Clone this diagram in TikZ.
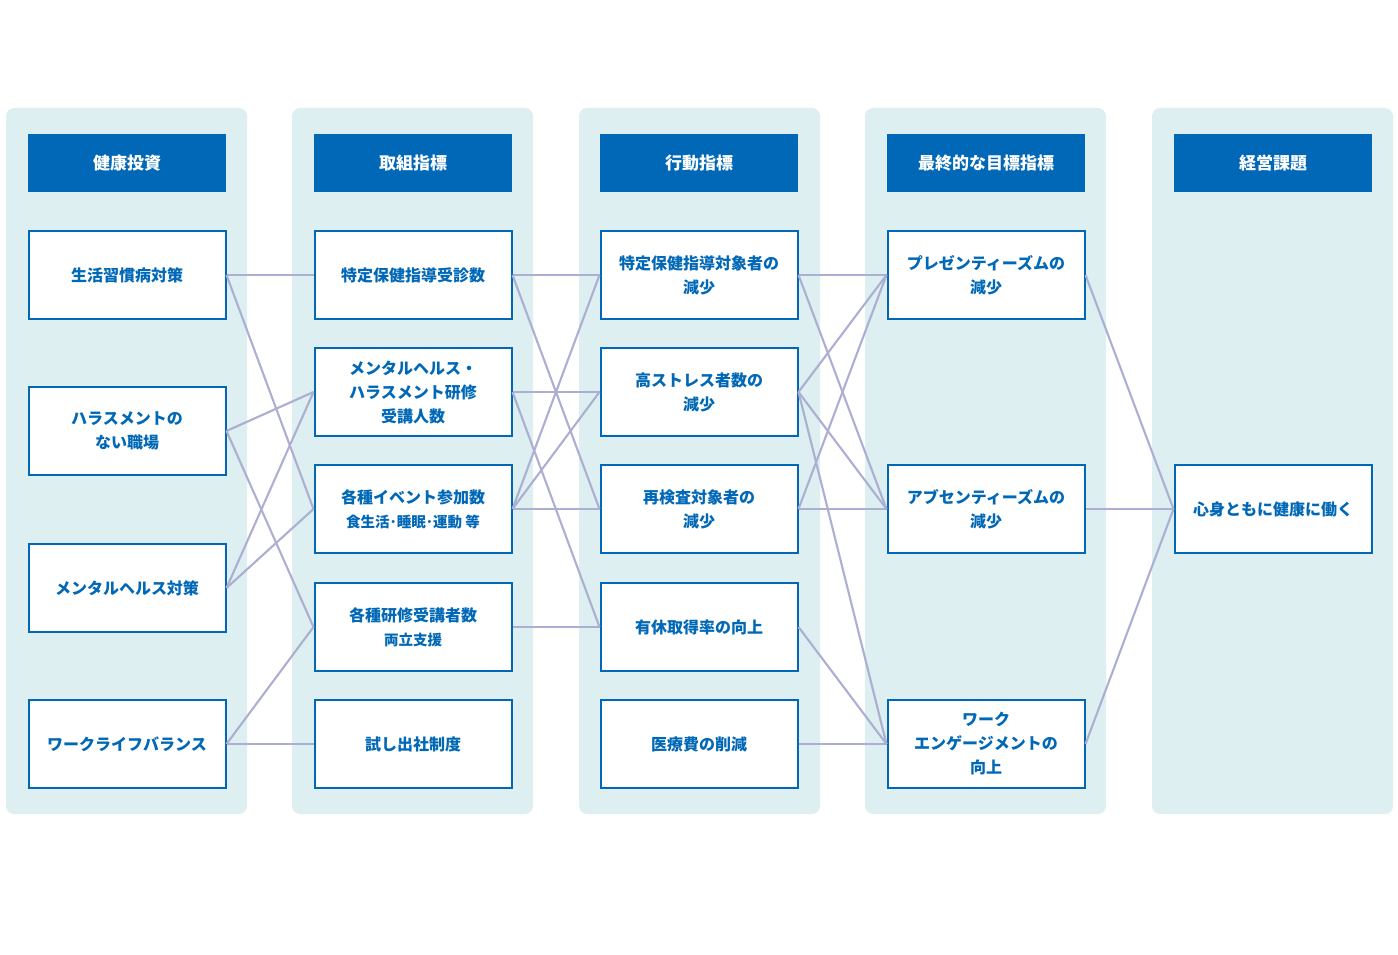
\documentclass[tikz,border=0pt]{standalone}
\usepackage{fontspec}
\setmainfont{Noto Sans CJK JP}
\usetikzlibrary{positioning}
\definecolor{panelbg}{RGB}{221,239,241}
\definecolor{mainblue}{RGB}{0,104,183}
\definecolor{linkgray}{RGB}{172,174,210}
\tikzstyle{panel}=[fill=panelbg,rounded corners=8pt]
\tikzstyle{header}=[fill=mainblue,text=white,minimum width=198pt,minimum height=58pt,inner sep=0pt,font=\fontsize{17}{24}\selectfont\bfseries]
\tikzstyle{box}=[draw=mainblue,line width=2pt,fill=white,text=mainblue,minimum width=197pt,minimum height=88pt,inner sep=0pt,align=center,font=\fontsize{16}{24}\selectfont\bfseries]
\tikzstyle{edge}=[draw=linkgray,line width=2.1pt]
\newcommand{\sub}[1]{{\fontsize{14.5}{24}\selectfont #1}}

\begin{document}
\begin{tikzpicture}[x=1pt,y=-1pt]
    \useasboundingbox (0,0) rectangle (1398,955);
    % panels behind each column
    \foreach \xa in {6,292,579,865,1152}
        \path[panel] (\xa,108) rectangle ++(241,706);

    % column headers
    \foreach \pos/\name/\label in {{(127,163)/h1/健康投資}, {(413,163)/h2/取組指標}, {(699,163)/h3/行動指標}, {(986,163)/h4/最終的な目標指標}, {(1273,163)/h5/経営課題}}
        \node[header] (\name) at \pos {\label};

    % First column: investments
    \foreach \pos/\name/\label in {{(127,275)/inv1/生活習慣病対策}, {(127,431)/inv2/{ハラスメントの\\ない職場}}, {(127,588)/inv3/メンタルヘルス対策}, {(127,744)/inv4/ワークライフバランス}}
        \node[box] (\name) at \pos {\label};

    % Second column: measures
    \foreach \pos/\name/\label in {{(413,275)/act1/特定保健指導受診数}, {(413,392)/act2/{メンタルヘルス・\\ハラスメント研修\\受講人数}}, {(413,509)/act3/{各種イベント参加数\\\sub{食生活･睡眠･運動 等}}}, {(413,627)/act4/{各種研修受講者数\\\sub{両立支援}}}, {(413,744)/act5/試し出社制度}}
        \node[box] (\name) at \pos {\label};

    % Third column: behaviour
    \foreach \pos/\name/\label in {{(699,275)/beh1/{特定保健指導対象者の\\減少}}, {(699,392)/beh2/{高ストレス者数の\\減少}}, {(699,509)/beh3/{再検査対象者の\\減少}}, {(699,627)/beh4/有休取得率の向上}, {(699,744)/beh5/医療費の削減}}
        \node[box] (\name) at \pos {\label};

    % Fourth and fifth column
    \foreach \pos/\name/\label in {{(986,275)/goal1/{プレゼンティーズムの\\減少}}, {(986,509)/goal2/{アブセンティーズムの\\減少}}, {(986,744)/goal3/{ワーク\\エンゲージメントの\\向上}}, {(1273,509)/iss/心身ともに健康に働く}}
        \node[box] (\name) at \pos {\label};

    % Connect the boxes
    \foreach \source/\dest in {inv1/act1, inv1/act3, inv2/act2, inv2/act4, inv3/act2, inv3/act3, inv4/act4, inv4/act5,
        act1/beh1, act1/beh3, act2/beh2, act2/beh4, act3/beh1, act3/beh2, act3/beh3, act4/beh4,
        beh1/goal1, beh1/goal2, beh2/goal1, beh2/goal2, beh2/goal3, beh3/goal1, beh3/goal2, beh4/goal3, beh5/goal3,
        goal1/iss, goal2/iss, goal3/iss}
        \draw[edge] (\source.east) -- (\dest.west);
\end{tikzpicture}
\end{document}
